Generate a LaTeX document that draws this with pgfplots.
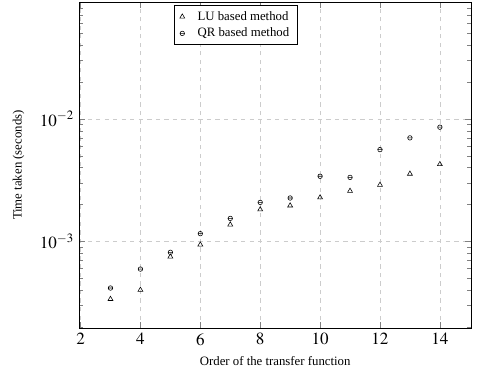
\documentclass[border=0pt]{standalone}
\usepackage{mathptmx}
\usepackage{fontspec}
\setmainfont{Liberation Serif}
\usepackage{pgfplots}
\pgfplotsset{compat=1.18}
\pgfdeclareplotmark{theta}{%
  \pgfpathcircle{\pgfpointorigin}{\pgfplotmarksize}%
  \pgfpathmoveto{\pgfqpoint{-\pgfplotmarksize}{0pt}}%
  \pgfpathlineto{\pgfqpoint{\pgfplotmarksize}{0pt}}%
  \pgfusepathqstroke}
\begin{document}
\begin{tikzpicture}
\begin{semilogyaxis}[
  scale only axis,
  width=276pt, height=229.6pt,
  xmin=1.95, xmax=15.05,
  ymin=1.95e-4, ymax=0.09,
  xtick={2,4,...,14},
  xlabel={Order of the transfer function},
  ylabel={Time taken (seconds)},
  grid=major,
  major grid style={dashed, gray!40},
  legend style={at={(0.40,0.99)}, anchor=north, font=\small, legend cell align=left, inner xsep=4pt, inner ysep=2pt},
  legend image code/.code={\draw[#1] plot coordinates {(0cm,0cm)}; \path (-0.05cm,0cm) (0.3cm,0cm);},
  tick label style={font=\large},
  label style={font=\small},
  xlabel style={yshift=-1pt},
  ylabel style={yshift=4pt},
]
\addplot[only marks, mark=triangle, mark size=2pt, black] coordinates {
(3,3.38e-4) (4,4.01e-4) (5,7.5e-4) (6,9.4e-4) (7,1.37e-3) (8,1.82e-3) (9,1.96e-3) (10,2.28e-3) (11,2.58e-3) (12,2.89e-3) (13,3.56e-3) (14,4.26e-3)};
\addlegendentry{LU based method}
\addplot[only marks, mark=theta, mark size=1.6pt, black] coordinates {
(3,4.16e-4) (4,5.94e-4) (5,8.14e-4) (6,1.156e-3) (7,1.54e-3) (8,2.08e-3) (9,2.26e-3) (10,3.40e-3) (11,3.33e-3) (12,5.61e-3) (13,7.0e-3) (14,8.55e-3)};
\addlegendentry{QR based method}
\end{semilogyaxis}
\pgfresetboundingbox
\useasboundingbox ([shift={(-55.6pt,-33pt)}]current axis.south west) rectangle ([shift={(4pt,1.4pt)}]current axis.north east);
\end{tikzpicture}
\end{document}
